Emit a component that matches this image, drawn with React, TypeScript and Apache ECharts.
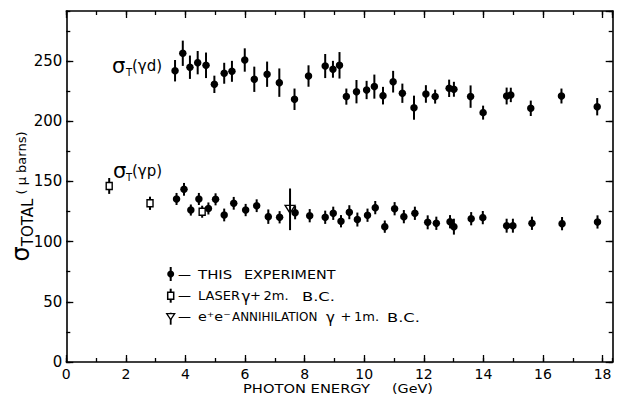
import React, { useEffect, useRef } from "react";
import * as echarts from "echarts";

// sigma_T(gamma d) — this experiment
const gdEnergy = [3.65, 3.91, 4.15, 4.41, 4.69, 4.97, 5.3, 5.56, 5.99, 6.31, 6.74, 7.15, 7.66, 8.13, 8.69, 8.95, 9.17, 9.4, 9.74, 10.08, 10.34, 10.63, 10.97, 11.28, 11.67, 12.07, 12.38, 12.85, 13.01, 13.57, 13.99, 14.78, 14.92, 15.59, 16.62, 17.82];
const gdSigma = [241.9, 256.4, 244.8, 248.6, 246.4, 230.6, 239.8, 241.4, 250.8, 234.8, 239.0, 232.0, 218.2, 237.5, 245.8, 243.1, 246.4, 220.4, 224.5, 225.9, 228.7, 221.2, 232.8, 223.2, 211.2, 222.6, 220.4, 227.3, 226.5, 220.4, 207.1, 220.9, 221.8, 210.7, 220.9, 212.0];
const gdError = [8.9, 10.5, 9.7, 9.7, 10.6, 7.2, 8.7, 8.7, 9.7, 10.5, 10.5, 11.8, 8.9, 8.9, 10, 7, 11, 6.7, 9.7, 7.6, 10, 7.3, 9, 8, 10, 7.3, 5.8, 7.2, 6.2, 9.3, 5.8, 7, 6, 6.4, 6.2, 7.2];

// sigma_T(gamma p) — this experiment
const gpEnergy = [3.7, 3.95, 4.18, 4.45, 4.77, 5.01, 5.3, 5.62, 6.02, 6.39, 6.78, 7.16, 7.68, 8.17, 8.69, 8.96, 9.22, 9.5, 9.77, 10.11, 10.37, 10.69, 11.02, 11.33, 11.7, 12.13, 12.42, 12.88, 13.01, 13.59, 13.98, 14.78, 14.99, 15.63, 16.64, 17.83];
const gpSigma = [135.4, 143.4, 126.2, 135.4, 127.5, 135.1, 122.1, 131.8, 126.2, 129.8, 120.7, 120.2, 124.0, 121.5, 120.2, 123.5, 116.9, 124.4, 118.3, 121.9, 128.2, 112.4, 127.3, 120.7, 123.5, 116.0, 115.2, 116.5, 112.4, 119.0, 119.9, 113.2, 113.2, 115.2, 114.9, 116.3];
const gpError = [5, 5.3, 4.6, 5, 5, 5, 5.3, 5.3, 5.1, 5.3, 6, 5.1, 5.5, 5.5, 5.5, 5.5, 5.1, 5.8, 5.8, 5.5, 5.5, 5.1, 5.5, 5.5, 5.5, 5.8, 5.5, 5.5, 6.6, 5.5, 5.5, 5.8, 5.8, 5.5, 5.5, 5.5];

// Laser gamma + 2m bubble chamber
const laserEnergy = [1.44, 2.81, 4.56];
const laserSigma = [146.2, 131.8, 124.8];
const laserError = [6.6, 5.5, 5.0];

// e+e- annihilation gamma + 1m bubble chamber
const eeEnergy = [7.51];
const eeSigma = [126.8];
const eeError = [17.3];

const X_MAX = 18.34;
const Y_MAX = 291.5;
const FONT = "DejaVu Sans";
const INK = "#000";

function pts(e: number[], s: number[]) {
  return e.map((v, i) => [v, s[i]]);
}
function errs(e: number[], s: number[], d: number[]) {
  return e.map((v, i) => [v, s[i] - d[i], s[i] + d[i]]);
}

const errorRender = (_p: any, api: any) => {
  const x = api.value(0);
  const a = api.coord([x, api.value(1)]);
  const b = api.coord([x, api.value(2)]);
  return {
    type: "line",
    shape: { x1: a[0], y1: a[1], x2: b[0], y2: b[1] },
    style: { stroke: INK, lineWidth: 2 },
  };
};

function makeX(position: string, interval: number, major: boolean, showLine: boolean, labels: boolean) {
  return {
    type: "value",
    position,
    min: 0,
    max: X_MAX,
    interval,
    axisLine: { show: showLine, onZero: false, lineStyle: { color: INK, width: 1.6 } },
    axisTick: { show: true, inside: true, length: major ? 7 : 4, lineStyle: { color: INK, width: 1.3 } },
    axisLabel: {
      show: labels,
      showMaxLabel: false,
      margin: 5,
      fontFamily: FONT,
      fontSize: 14,
      color: INK,
    },
    splitLine: { show: false },
  };
}
function makeY(position: string, interval: number, major: boolean, showLine: boolean, labels: boolean) {
  return {
    type: "value",
    position,
    min: 0,
    max: Y_MAX,
    interval,
    axisLine: { show: showLine, onZero: false, lineStyle: { color: INK, width: 1.6 } },
    axisTick: { show: true, inside: true, length: major ? 7 : 4, lineStyle: { color: INK, width: 1.3 } },
    axisLabel: {
      show: labels,
      showMaxLabel: false,
      margin: 4,
      fontFamily: FONT,
      fontSize: 15,
      color: INK,
    },
    splitLine: { show: false },
  };
}

function txt(text: string, x: number, y: number, size: number, extra: any = {}) {
  const { style, ...rest } = extra;
  return {
    type: "text",
    x,
    y,
    silent: true,
    ...rest,
    style: {
      text,
      fill: INK,
      fontFamily: FONT,
      fontSize: size,
      align: "left",
      verticalAlign: "middle",
      ...(style || {}),
    },
  };
}

export default function App() {
  const ref = useRef<HTMLDivElement>(null);
  useEffect(() => {
    if (!ref.current) return;
    const chart = echarts.init(ref.current, null, { renderer: "svg" });
    const legendX = 170.7;
    const rows = [274, 295.7, 316.7];
    chart.setOption({
      animation: false,
      backgroundColor: "#fff",
      grid: { left: 66.3, right: 4.3, top: 11, bottom: 36, containLabel: false },
      xAxis: [
        makeX("bottom", 2, true, true, true),
        makeX("bottom", 1, false, false, false),
        makeX("top", 2, true, true, false),
        makeX("top", 1, false, false, false),
      ],
      yAxis: [
        makeY("left", 50, true, true, true),
        makeY("left", 25, false, false, false),
        makeY("right", 50, true, true, false),
        makeY("right", 25, false, false, false),
      ],
      series: [
        { type: "custom", renderItem: errorRender, data: errs(gdEnergy, gdSigma, gdError), encode: { x: 0, y: [1, 2] }, z: 2, silent: true },
        { type: "custom", renderItem: errorRender, data: errs(gpEnergy, gpSigma, gpError), encode: { x: 0, y: [1, 2] }, z: 2, silent: true },
        { type: "custom", renderItem: errorRender, data: errs(laserEnergy, laserSigma, laserError), encode: { x: 0, y: [1, 2] }, z: 2, silent: true },
        { type: "custom", renderItem: errorRender, data: errs(eeEnergy, eeSigma, eeError), encode: { x: 0, y: [1, 2] }, z: 2, silent: true },
        { type: "scatter", data: pts(gdEnergy, gdSigma), symbol: "circle", symbolSize: 7.5, itemStyle: { color: INK, opacity: 1 }, z: 3, silent: true },
        { type: "scatter", data: pts(gpEnergy, gpSigma), symbol: "circle", symbolSize: 7.5, itemStyle: { color: INK, opacity: 1 }, z: 3, silent: true },
        { type: "scatter", data: pts(laserEnergy, laserSigma), symbol: "rect", symbolSize: [6, 7], itemStyle: { color: "#fff", borderColor: INK, borderWidth: 1.5, opacity: 1 }, z: 3, silent: true },
        { type: "scatter", data: pts(eeEnergy, eeSigma), symbol: "triangle", symbolRotate: 180, symbolSize: [10, 8], itemStyle: { color: "rgba(0,0,0,0)", borderColor: INK, borderWidth: 1.3, opacity: 1 }, z: 3, silent: true },
      ],
      graphic: [
        // y axis title (rotated, reads bottom to top)
        {
          type: "text",
          x: 21,
          y: 196.5,
          rotation: Math.PI / 2,
          silent: true,
          style: {
            text: "{s|σ}{t|TOTAL}{n| ( μ barns)}",
            fill: INK,
            fontFamily: FONT,
            align: "center",
            verticalAlign: "middle",
            rich: {
              s: { fontFamily: FONT, fontSize: 24, lineHeight: 28, fill: INK, verticalAlign: "middle" },
              t: { fontFamily: FONT, fontSize: 15, lineHeight: 15, fill: INK, verticalAlign: "bottom" },
              n: { fontFamily: FONT, fontSize: 13, lineHeight: 15, fill: INK, verticalAlign: "middle" },
            },
          },
        },
        // x axis title
        txt("PHOTON ENERGY", 243, 388, 13, { scaleX: 1.13 }),
        txt("(GeV)", 392, 388, 13, { scaleX: 1.1 }),
        // curve annotations
        txt("σ", 112, 66, 21),
        txt("T", 126, 72, 10),
        txt("(γd)", 132, 66, 15),
        txt("σ", 113, 171, 21),
        txt("T", 126, 177, 10),
        txt("(γp)", 132, 171, 15),
        // legend symbols
        { type: "line", silent: true, shape: { x1: legendX, y1: rows[0] - 7, x2: legendX, y2: rows[0] + 7 }, style: { stroke: INK, lineWidth: 2 } },
        { type: "circle", silent: true, shape: { cx: legendX, cy: rows[0], r: 3.5 }, style: { fill: INK } },
        { type: "line", silent: true, shape: { x1: legendX, y1: rows[1] - 7, x2: legendX, y2: rows[1] + 7 }, style: { stroke: INK, lineWidth: 2 } },
        { type: "rect", silent: true, shape: { x: legendX - 3, y: rows[1] - 3.5, width: 6, height: 7 }, style: { fill: "#fff", stroke: INK, lineWidth: 1.5 } },
        { type: "line", silent: true, shape: { x1: legendX, y1: rows[2] - 4, x2: legendX, y2: rows[2] + 8 }, style: { stroke: INK, lineWidth: 1.8 } },
        { type: "polygon", silent: true, shape: { points: [[legendX - 4, rows[2] - 3], [legendX + 4, rows[2] - 3], [legendX, rows[2] + 3]] }, style: { fill: "#fff", stroke: INK, lineWidth: 1.3 } },
        // legend texts
        txt("—", 178, rows[0], 13),
        txt("THIS", 198, rows[0], 13, { scaleX: 1.15 }),
        txt("EXPERIMENT", 244, rows[0], 13, { scaleX: 1.1 }),
        txt("—", 178, rows[1], 13),
        txt("LASER", 198, rows[1], 13),
        txt("γ", 241.5, rows[1] + 1, 15),
        txt("+", 250, rows[1], 13),
        txt("2m.", 263.5, rows[1], 13),
        txt("B.C.", 302, rows[1], 13, { scaleX: 1.25 }),
        txt("—", 178, rows[2], 13),
        txt("e⁺e⁻", 198, rows[2], 13, { scaleX: 1.1 }),
        txt("ANNIHILATION", 232, rows[2], 13, { scaleX: 0.92 }),
        txt("γ", 326, rows[2] + 1, 15),
        txt("+", 340.5, rows[2], 13),
        txt("1m.", 354, rows[2], 13),
        txt("B.C.", 387, rows[2], 13, { scaleX: 1.25 }),
      ],
    });
    return () => chart.dispose();
  }, []);
  return (
    <div
      ref={ref}
      style={{ position: "absolute", left: 0, top: 0, width: 617, height: 398, background: "#fff" }}
    />
  );
}
